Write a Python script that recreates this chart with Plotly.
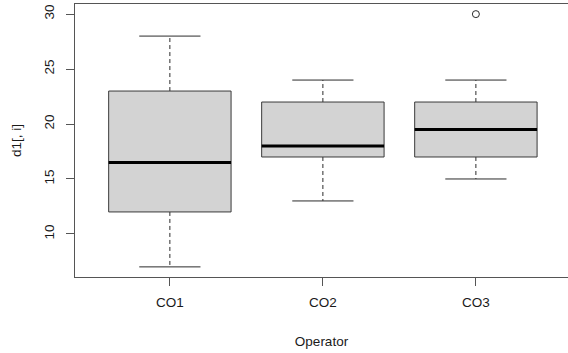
import plotly.graph_objects as go

categories = ["CO1", "CO2", "CO3"]
lower_whisker = [7, 13, 15]
q1 = [12, 17, 17]
median = [16.5, 18, 19.5]
q3 = [23, 22, 22]
upper_whisker = [28, 24, 24]
outlier_cat = ["CO3"]
outlier_val = [30]
y_ticks = [10, 15, 20, 25, 30]

BOX_HALF = 0.4
CAP_HALF = 0.2
LINE_COL = "#2b2b2b"
FONT = "Liberation Sans, Arial, sans-serif"

fig = go.Figure()
for i, cat in enumerate(categories):
    p = i + 1
    # whiskers (dashed)
    fig.add_trace(go.Scatter(
        x=[p, p, None, p, p], y=[q3[i], upper_whisker[i], None, q1[i], lower_whisker[i]],
        mode="lines", line=dict(color=LINE_COL, width=1, dash="4px,3px"),
        hoverinfo="skip", showlegend=False))
    # caps
    fig.add_trace(go.Scatter(
        x=[p - CAP_HALF, p + CAP_HALF, None, p - CAP_HALF, p + CAP_HALF],
        y=[upper_whisker[i], upper_whisker[i], None, lower_whisker[i], lower_whisker[i]],
        mode="lines", line=dict(color=LINE_COL, width=1),
        hoverinfo="skip", showlegend=False))
    # box
    fig.add_trace(go.Scatter(
        x=[p - BOX_HALF, p + BOX_HALF, p + BOX_HALF, p - BOX_HALF, p - BOX_HALF],
        y=[q1[i], q1[i], q3[i], q3[i], q1[i]],
        mode="lines", fill="toself", fillcolor="#d3d3d3",
        line=dict(color="#3a3a3a", width=1),
        hoverinfo="skip", showlegend=False))
    # median
    fig.add_trace(go.Scatter(
        x=[p - BOX_HALF, p + BOX_HALF], y=[median[i], median[i]],
        mode="lines", line=dict(color="#000000", width=3),
        hoverinfo="skip", showlegend=False))

fig.add_trace(go.Scatter(
    x=[categories.index(c) + 1 for c in outlier_cat], y=outlier_val,
    mode="markers",
    marker=dict(symbol="circle-open", size=7, color=LINE_COL, line=dict(width=1)),
    hoverinfo="skip", showlegend=False))

fig.update_layout(
    width=568, height=353,
    margin=dict(l=75, r=0, t=4, b=76, autoexpand=False),
    paper_bgcolor="white", plot_bgcolor="white",
    font=dict(family=FONT, size=13, color="#1a1a1a"),
    xaxis=dict(
        range=[0.38, 3.602], tickvals=[1, 2, 3], ticktext=categories,
        ticks="outside", ticklen=8, tickcolor="#555555", tickwidth=1,
        showline=True, linecolor="#555555", linewidth=1, mirror=True,
        showgrid=False, zeroline=False, automargin=False,
        ticklabelstandoff=5,
        title=dict(text="Operator", standoff=27, font=dict(size=13.5)),
        tickfont=dict(size=13.5),
    ),
    yaxis=dict(
        range=[6.08, 30.92], tickvals=y_ticks,
        ticks="outside", ticklen=8, tickcolor="#555555", tickwidth=1,
        showline=True, linecolor="#555555", linewidth=1, mirror=False,
        showgrid=False, zeroline=False, tickangle=-90, automargin=False,
        ticklabelstandoff=7,
        title=dict(text="d1[, i]", standoff=16, font=dict(size=13.5)),
        tickfont=dict(size=13.5),
    ),
)

fig.write_html("out.html", config={"displayModeBar": False},
               post_script="document.body.style.margin='0';document.body.style.overflow='hidden';")
